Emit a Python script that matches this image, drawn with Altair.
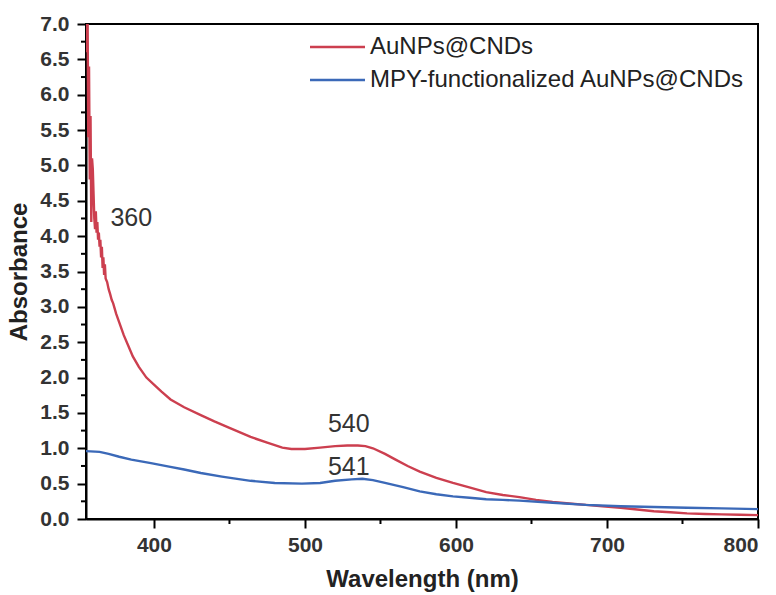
import altair as alt
import pandas as pd

# ---- data ----
series_names = ["AuNPs@CNDs", "MPY-functionalized AuNPs@CNDs"]
series_colors = ["#cc3f4f", "#3b69b8"]

red_nm = [355, 355.5, 356, 356.5, 357, 357.5, 358, 358.5, 359, 359.5, 360, 360.5, 361, 361.5,
          362, 362.5, 363, 363.5, 364, 364.5, 365, 365.5, 366, 366.5, 367, 367.5, 368, 369,
          370, 371, 372, 373, 375, 377, 380, 383, 386, 390, 395, 400, 405, 411, 420, 431, 440,
          450, 464, 475, 485, 491, 500, 510, 520, 528, 535, 540, 545, 553, 560, 568, 576, 587,
          598, 610, 620, 631, 642, 653, 664, 675, 686, 697, 709, 720, 731, 742, 753, 765, 776,
          788, 800]
red_abs = [7.6, 6.6, 7.3, 5.4, 6.4, 4.8, 5.7, 4.2, 5.1, 4.95, 4.6, 4.25, 4.1, 4.35,
           4.05, 4.2, 3.95, 4.05, 3.85, 3.95, 3.7, 3.85, 3.55, 3.7, 3.45, 3.6, 3.4, 3.35,
           3.25, 3.18, 3.1, 3.05, 2.9, 2.78, 2.6, 2.45, 2.3, 2.15, 2.0, 1.9, 1.8, 1.69, 1.58,
           1.47, 1.38, 1.29, 1.16, 1.08, 1.01, 0.99, 0.99, 1.01, 1.03, 1.04, 1.04, 1.03, 1.0,
           0.92, 0.84, 0.75, 0.67, 0.58, 0.51, 0.44, 0.38, 0.34, 0.31, 0.27, 0.24, 0.22, 0.20,
           0.18, 0.16, 0.135, 0.11, 0.095, 0.08, 0.07, 0.065, 0.06, 0.055]

blue_nm = [355, 364, 370, 377, 385, 398, 410, 420, 431, 445, 464, 480, 498, 510, 520, 531,
           538, 545, 553, 565, 576, 587, 598, 609, 620, 631, 642, 664, 686, 709, 731, 753,
           776, 800]
blue_abs = [0.96, 0.95, 0.92, 0.88, 0.84, 0.79, 0.74, 0.70, 0.65, 0.60, 0.54, 0.51, 0.50,
            0.51, 0.54, 0.56, 0.57, 0.55, 0.51, 0.45, 0.39, 0.35, 0.32, 0.30, 0.28, 0.27,
            0.26, 0.23, 0.20, 0.18, 0.17, 0.16, 0.15, 0.14]

peak_labels = ["360", "540", "541"]
peak_nm = [385, 529, 529]
peak_abs = [4.26, 1.34, 0.735]

x_major = [400, 500, 600, 700, 800]
x_minor = [450, 550, 650, 750]
y_major = [0.0, 0.5, 1.0, 1.5, 2.0, 2.5, 3.0, 3.5, 4.0, 4.5, 5.0, 5.5, 6.0, 6.5, 7.0]
y_minor = [0.25, 0.75, 1.25, 1.75, 2.25, 2.75, 3.25, 3.75, 4.25, 4.75, 5.25, 5.75,
           6.25, 6.75]

FONT = "Liberation Sans"
W, H = 672, 495

df = pd.concat([
    pd.DataFrame({"nm": red_nm, "abs": red_abs, "series": series_names[0]}),
    pd.DataFrame({"nm": blue_nm, "abs": blue_abs, "series": series_names[1]}),
])
ann = pd.DataFrame({"nm": peak_nm, "abs": peak_abs, "label": peak_labels})
leg = pd.DataFrame({"series": series_names})

x_scale = alt.Scale(domain=[355, 800], nice=False, zero=False)
y_scale = alt.Scale(domain=[0, 7], nice=False)
color_scale = alt.Scale(domain=series_names, range=series_colors)

x_axis = alt.Axis(
    title="Wavelength (nm)", values=x_major, format="d",
    tickSize=9, labelPadding=6, titlePadding=12, grid=False, labelOverlap=False,
)
y_axis = alt.Axis(
    title="Absorbance", values=y_major, format=".1f",
    tickSize=9, labelPadding=8, titlePadding=8, grid=False, labelOverlap=False,
)

lines = alt.Chart(df).mark_line(clip=True, strokeWidth=2.4).encode(
    x=alt.X("nm:Q", scale=x_scale, axis=x_axis),
    y=alt.Y("abs:Q", scale=y_scale, axis=y_axis),
    color=alt.Color("series:N", scale=color_scale, legend=None),
    detail="series:N",
)

minor_y = alt.Chart(pd.DataFrame({"v": y_minor})).mark_rule(
    color="black", strokeWidth=2).encode(
    y=alt.Y("v:Q", scale=y_scale, axis=None),
    x=alt.value(-5), x2=alt.value(0),
)
minor_x = alt.Chart(pd.DataFrame({"v": x_minor})).mark_rule(
    color="black", strokeWidth=2).encode(
    x=alt.X("v:Q", scale=x_scale, axis=None),
    y=alt.value(H), y2=alt.value(H + 5),
)

texts = alt.Chart(ann).mark_text(font=FONT, fontSize=25, color="#333").encode(
    x=alt.X("nm:Q", scale=x_scale, axis=None),
    y=alt.Y("abs:Q", scale=y_scale, axis=None),
    text="label:N",
)

leg_y = alt.Y("series:N", axis=None,
              scale=alt.Scale(type="point", domain=series_names, range=[23, 56], padding=0))
leg_rule = alt.Chart(leg).mark_rule(strokeWidth=2.5).encode(
    x=alt.value(224), x2=alt.value(279), y=leg_y,
    color=alt.Color("series:N", scale=color_scale, legend=None),
)
leg_text = alt.Chart(leg).mark_text(
    align="left", baseline="middle", font=FONT, fontSize=24, color="#222").encode(
    x=alt.value(284), y=leg_y, text="series:N",
)

chart = alt.layer(lines, minor_y, minor_x, texts, leg_rule, leg_text).resolve_scale(
    y="independent"
).resolve_axis(
    x="independent", y="independent"
).properties(
    width=W, height=H,
    autosize=alt.AutoSizeParams(type="none"),
    padding={"left": 86, "top": 24, "right": 18, "bottom": 76},
    background="white",
).configure_view(
    stroke="black", strokeWidth=2,
).configure_axis(
    domainColor="black", domainWidth=2, tickColor="black", tickWidth=2,
    labelFont=FONT, labelFontSize=21, labelFontWeight="bold", labelColor="#333",
    titleFont=FONT, titleFontSize=24, titleFontWeight="bold", titleColor="#222",
)

chart.save("out.html", embed_options={"renderer": "svg", "actions": False})
